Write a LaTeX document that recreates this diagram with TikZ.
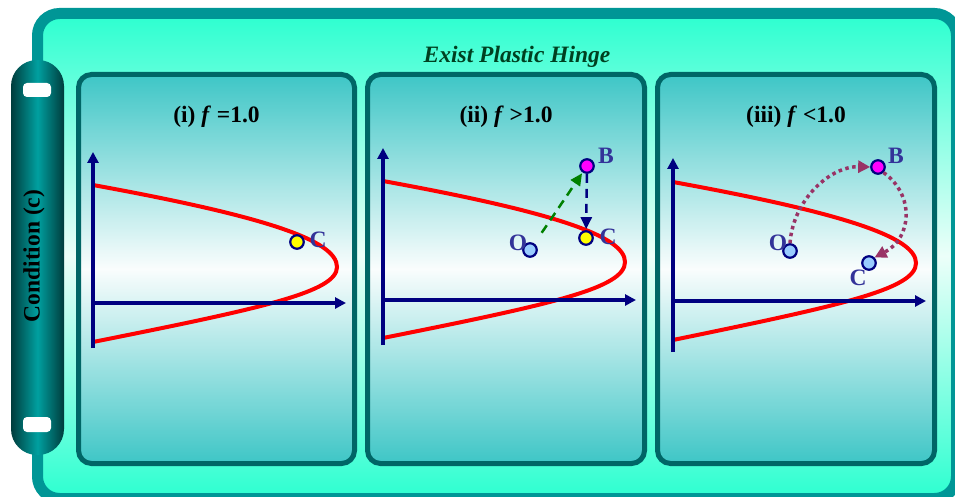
\documentclass[tikz,border=0pt]{standalone}
\usepackage{fontspec}
\setmainfont{Liberation Serif}
\usetikzlibrary{arrows.meta}
\definecolor{frameC}{RGB}{0,150,150}
\definecolor{aquaC}{RGB}{44,255,208}
\definecolor{aquaMid}{RGB}{236,255,249}
\definecolor{panelBorder}{RGB}{0,102,102}
\definecolor{panelTop}{RGB}{62,198,198}
\definecolor{panelMid}{RGB}{250,253,253}
\definecolor{pillDark}{RGB}{0,60,60}
\definecolor{pillLight}{RGB}{0,160,160}
\definecolor{axisC}{RGB}{0,0,128}
\definecolor{lblC}{RGB}{51,51,153}
\definecolor{ptO}{RGB}{153,204,255}
\definecolor{ptB}{RGB}{255,0,255}
\definecolor{ptY}{RGB}{255,255,0}
\definecolor{greenC}{RGB}{0,128,0}
\definecolor{dotC}{RGB}{153,51,102}
\definecolor{titleC}{RGB}{0,64,32}
\begin{document}
\begin{tikzpicture}[x=1pt,y=-1pt,
  panel/.style={line width=5pt, draw=panelBorder, rounded corners=13pt, top color=panelTop, bottom color=panelTop, middle color=panelMid},
  axis/.style={line width=3.8pt, draw=axisC, -{Triangle[length=11pt,width=11pt]}},
  limit/.style={line width=4pt, draw=red, line cap=round},
  pt/.style={circle, draw=axisC, line width=2.2pt, minimum size=13.5pt, inner sep=0pt},
  lbl/.style={font=\fontsize{23.5}{26}\selectfont\bfseries, text=lblC, inner sep=0pt},
  hdr/.style={font=\fontsize{23.5}{26}\selectfont\bfseries, inner sep=0pt},
  greenarrow/.style={line width=2.5pt, draw=greenC, dash pattern=on 9pt off 6pt, -{Triangle[length=12pt,width=11pt]}},
  navyarrow/.style={line width=2.5pt, draw=axisC, dash pattern=on 9pt off 6pt, -{Triangle[length=12pt,width=11pt]}},
  dotarrow/.style={line width=3.5pt, draw=dotC, dash pattern=on 3.5pt off 3.5pt, -{Triangle[length=12pt,width=12pt]}}
]
\useasboundingbox (0,0) rectangle (955,497);
% outer frame
\draw[line width=11pt, draw=frameC, top color=aquaC, bottom color=aquaC, middle color=aquaMid, rounded corners=22pt] (37.5,13.5) rectangle (956.5,498.5);
% condition tab
\shade[left color=pillDark, right color=pillDark, middle color=pillLight, rounded corners=26pt] (11,60) rectangle (64,455);
\fill[white, rounded corners=4pt] (23,83) rectangle (51,97);
\fill[white, rounded corners=4pt] (23,417) rectangle (51,432);
\node[hdr, rotate=90] (cond) at (34,256) {Condition (c)};
% title
\node[font=\fontsize{23.5}{26}\selectfont\bfseries\itshape, text=titleC, inner sep=0pt] (title) at (517,57) {Exist Plastic Hinge};
% panels
\draw[panel] (78.5,74.5) rectangle (354.5,463.5);
\draw[panel] (367.5,74.5) rectangle (644.5,463.5);
\draw[panel] (657.5,74.5) rectangle (934.5,463.5);
\node[hdr] (h1) at (216.5,117) {(i) \textit{f} =1.0};
\node[hdr] (h2) at (506,117) {(ii) \textit{f} >1.0};
\node[hdr] (h3) at (796,117) {(iii) \textit{f} <1.0};
% graphs
\begin{scope}
\coordinate (v1b) at (93,348); \coordinate (v1t) at (93,152);
\coordinate (x1l) at (93,303); \coordinate (x1r) at (346,303);
\draw[limit] (93,185) .. controls (263,216) and (337,240) .. (337,267) .. controls (337,292) and (263,308) .. (93,342);
\draw[axis] (v1b) -- (v1t);
\draw[axis] (x1l) -- (x1r);
\end{scope}
\begin{scope}[shift={(290,-4)}]
\coordinate (v2b) at (93,349); \coordinate (v2t) at (93,152);
\coordinate (x2l) at (93,304); \coordinate (x2r) at (346,304);
\draw[limit] (93,185) .. controls (263,216) and (335,240) .. (335,266) .. controls (335,292) and (263,308) .. (93,342);
\draw[axis] (v2b) -- (v2t);
\draw[axis] (x2l) -- (x2r);
\end{scope}
\begin{scope}[shift={(580,-3)}]
\coordinate (v3b) at (93,355); \coordinate (v3t) at (93,161);
\coordinate (x3l) at (93,304); \coordinate (x3r) at (346,304);
\draw[limit] (93,185) .. controls (263,216) and (336,240) .. (336,266) .. controls (336,292) and (263,308) .. (93,343);
\draw[axis] (v3b) -- (v3t);
\draw[axis] (x3l) -- (x3r);
\end{scope}
% panel 1 points
\node[pt, fill=ptY] (c1) at (297,242) {};
\node[lbl] (c1l) at (318,240) {C};
% panel 2 points
\node[pt, fill=ptB] (b2) at (587,166) {};
\node[pt, fill=ptY] (c2) at (586,238) {};
\node[pt, fill=ptO] (o2) at (530,250) {};
\node[lbl] (b2l) at (606,156) {B};
\node[lbl] (c2l) at (608,237) {C};
\node[lbl] (o2l) at (518,243) {O};
\draw[greenarrow, shorten <=13pt, shorten >=1pt] (o2) -- (b2);
\draw[navyarrow, shorten >=1pt] (b2) -- (c2);
% panel 3 points
\node[pt, fill=ptB] (b3) at (878,167) {};
\node[pt, fill=ptO] (o3) at (790,251) {};
\node[pt, fill=ptO] (c3) at (869,263) {};
\node[lbl] (b3l) at (896,156) {B};
\node[lbl] (o3l) at (778,243) {O};
\node[lbl] (c3l) at (858,278) {C};
\draw[dotarrow] (o3.north) .. controls (793,200) and (830,166) .. (b3.west);
\draw[dotarrow] (b3.south east) .. controls (915,195) and (912,238) .. (c3.north east);
\end{tikzpicture}
\end{document}
